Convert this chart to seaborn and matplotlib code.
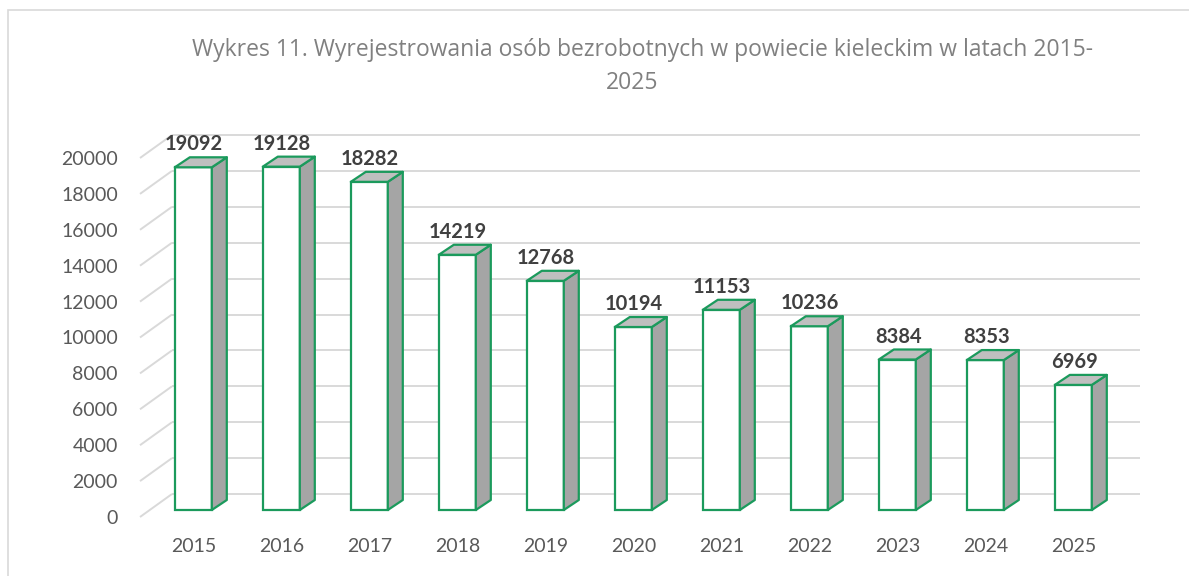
import matplotlib
matplotlib.use("Agg")
import matplotlib.pyplot as plt
from matplotlib.patches import Polygon, Rectangle
import seaborn as sns
import pandas as pd

years = ["2015", "2016", "2017", "2018", "2019", "2020", "2021", "2022", "2023", "2024", "2025"]
values = [19092, 19128, 18282, 14219, 12768, 10194, 11153, 10236, 8384, 8353, 6969]
y_ticks = list(range(0, 20001, 2000))
title_1 = "Wykres 11. Wyrejestrowania osób bezrobotnych w powiecie kieleckim w latach 2015-"
title_2 = "2025"

GREEN = "#1b9a5c"
GRID = "#d9d9d9"

df = pd.DataFrame({"rok": years, "liczba": values})

sns.set_theme(style="white")
plt.rcParams["font.family"] = ["Lato", "DejaVu Sans"]

W, H = 1189, 576
fig = plt.figure(figsize=(W / 100, H / 100), dpi=100)

# pixel layout (front plane of the pseudo 3D chart)
left_px, right_px = 140, 1108
bottom_px, top_px = 517, 120
k = 359 / 20000          # px per unit
cat = (right_px - left_px) / 11
ax = fig.add_axes([left_px / W, 1 - bottom_px / H,
                   (right_px - left_px) / W, (bottom_px - top_px) / H])

x0 = -53.3 / cat
shift = 7 / k            # bars sit a bit behind the front plane

bw = 37 / cat
sns.barplot(data=df, x="rok", y="liczba", color="white", edgecolor=GREEN,
            linewidth=1.6, width=bw, saturation=1, ax=ax, zorder=2)
ax.set_xlim(x0, x0 + 11)
ax.set_ylim(-shift, (510 - top_px) / k)

# back wall gridlines + floor diagonals
wall_dx, wall_dy = 32 / cat, 23 / k
for t in y_ticks:
    yf = t - shift
    ax.plot([x0, x0 + wall_dx], [yf, yf + wall_dy], color=GRID, lw=1.4,
            zorder=0, clip_on=False, solid_capstyle="butt")
    ax.plot([x0 + wall_dx, x0 + 11 + wall_dx], [yf + wall_dy, yf + wall_dy],
            color=GRID, lw=1.4, zorder=0, clip_on=False, solid_capstyle="butt")

ddx, ddy = 15 / cat, 10 / k
for i, v in enumerate(values):
    xl, xr = i - bw / 2, i + bw / 2
    top = Polygon([(xl, v), (xl + ddx, v + ddy), (xr + ddx, v + ddy), (xr, v)],
                  closed=True, facecolor="#bfbfbf", edgecolor=GREEN, lw=1.6,
                  zorder=3, joinstyle="round")
    side = Polygon([(xr, 0), (xr + ddx, ddy), (xr + ddx, v + ddy), (xr, v)],
                   closed=True, facecolor="#a5a5a5", edgecolor=GREEN, lw=1.6,
                   zorder=3, joinstyle="round")
    ax.add_patch(side)
    ax.add_patch(top)
    ax.text(i + 0.01, v + ddy + 7 / k, str(v), ha="center", va="baseline",
            fontsize=14.5, fontweight="bold", color="#404040", zorder=4)

ax.set_yticks([t - shift for t in y_ticks])
ax.set_yticklabels([str(t) for t in y_ticks])
ax.tick_params(axis="y", length=0, pad=16, labelsize=14, labelcolor="#595959")
ax.tick_params(axis="x", length=0, pad=15, labelsize=14, labelcolor="#595959")
ax.set_xlabel("")
ax.set_ylabel("")
for s in ax.spines.values():
    s.set_visible(False)
ax.set_facecolor("none")
ax.grid(False)

fig.text(642 / W, 1 - 50 / H, title_1, ha="center", va="center",
         fontsize=16.5, color="#808080", family=["Open Sans", "DejaVu Sans"])
fig.text(632 / W, 1 - 83 / H, title_2, ha="center", va="center",
         fontsize=16.5, color="#808080", family=["Open Sans", "DejaVu Sans"])

# outer chart frame
fig.patches.append(Rectangle((8 / W, -0.5), 2, 1 - 10 / H + 0.5,
                             transform=fig.transFigure, fill=False,
                             edgecolor="#d9d9d9", lw=1.2))

fig.savefig("out.png", dpi=100, facecolor="white")
